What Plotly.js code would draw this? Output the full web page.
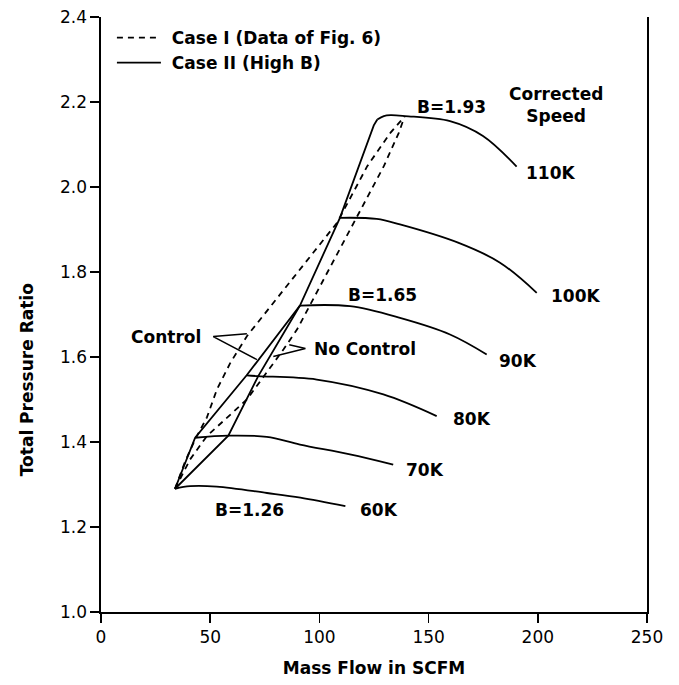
<!DOCTYPE html>
<html>
<head>
<meta charset="utf-8">
<script src="https://cdn.plot.ly/plotly-3.0.1.min.js"></script>
<style>html,body{margin:0;padding:0;background:#fff;}#chart{width:679px;height:685px;}</style>
</head>
<body>
<div id="chart"></div>
<script>
// ---- Data ----
// Constant corrected-speed lines (Case II)
const speed60X  = [33.9, 40.8, 53.0, 76.0, 91.3, 111.9];
const speed60Y  = [1.290, 1.296, 1.295, 1.280, 1.269, 1.249];
const speed70X  = [43.1, 58.3, 75.9, 91.1, 114.0, 133.8];
const speed70Y  = [1.410, 1.415, 1.412, 1.394, 1.371, 1.347];
const speed80X  = [66.7, 72.0, 98.8, 129.3, 153.7];
const speed80Y  = [1.557, 1.555, 1.547, 1.512, 1.461];
const speed90X  = [91.1, 114.0, 136.9, 159.8, 176.6];
const speed90Y  = [1.721, 1.7195, 1.692, 1.653, 1.606];
const speed100X = [109.4, 126.2, 136.9, 163.5, 182.7, 199.5];
const speed100Y = [1.9275, 1.925, 1.912, 1.869, 1.822, 1.751];
const speed110X = [126.5, 129.5, 132.6, 139.2, 159.8, 174.9, 190.3];
const speed110Y = [2.159, 2.167, 2.169, 2.167, 2.155, 2.120, 2.048];

// Surge lines
const case1ControlX   = [33.9, 38.5, 43.1, 48.5, 53.1, 59.2, 66.8, 87.5, 108.1, 121.9, 132.6, 139.0];
const case1ControlY   = [1.290, 1.354, 1.406, 1.458, 1.524, 1.586, 1.649, 1.782, 1.916, 2.049, 2.128, 2.166];
const case1NoControlX = [33.9, 40.8, 48.5, 66.8, 83.6, 89.8, 129.5, 136.4, 139.0];
const case1NoControlY = [1.290, 1.359, 1.414, 1.500, 1.618, 1.665, 2.049, 2.128, 2.166];
const case2ControlX   = [33.9, 43.1, 66.7, 91.1, 109.4, 124.9, 126.5];
const case2ControlY   = [1.290, 1.410, 1.557, 1.721, 1.9275, 2.145, 2.159];
const case2NoControlX = [33.9, 58.3, 72.0, 91.1];
const case2NoControlY = [1.290, 1.415, 1.555, 1.721];

// Leader lines for the "Control" / "No Control" callouts
const controlLeaderX   = [66.8, 51.4, 71.4];
const controlLeaderY   = [1.655, 1.648, 1.594];
const noControlLeaderX = [86.2, 93.6, 78.9];
const noControlLeaderY = [1.629, 1.620, 1.601];

// Text labels
const speedLabels  = ['60K', '70K', '80K', '90K', '100K', '110K'];
const bLabels      = ['B=1.26', 'B=1.65', 'B=1.93'];
const legendNames  = ['Case I (Data of Fig. 6)', 'Case II (High B)'];
const xTicks       = [0, 50, 100, 150, 200, 250];
const yTicks       = [1.0, 1.2, 1.4, 1.6, 1.8, 2.0, 2.2, 2.4];

// ---- Styling ----
const FONT = 'DejaVu Sans, Arial, sans-serif';
const LW = 1.8;
const solid = {color: '#000', width: LW};
const dashed = {color: '#000', width: LW, dash: '6px,5px'};

function curve(x, y, line, extra) {
  return Object.assign({x: x, y: y, type: 'scatter', mode: 'lines', line: line,
    showlegend: false, hoverinfo: 'skip'}, extra || {});
}

const spl = Object.assign({}, solid, {shape: 'spline', smoothing: 1.0});
const traces = [
  curve(case1ControlX, case1ControlY, dashed, {showlegend: true, name: '&nbsp;' + legendNames[0], legendrank: 1}),
  curve(case1NoControlX, case1NoControlY, dashed),
  curve(case2ControlX, case2ControlY, solid, {showlegend: true, name: '&nbsp;' + legendNames[1], legendrank: 2}),
  curve(case2NoControlX, case2NoControlY, solid),
  curve(speed60X, speed60Y, spl),
  curve(speed70X, speed70Y, spl),
  curve(speed80X, speed80Y, spl),
  curve(speed90X, speed90Y, spl),
  curve(speed100X, speed100Y, spl),
  curve(speed110X, speed110Y, spl),
  curve(controlLeaderX, controlLeaderY, {color: '#000', width: 1.5}),
  curve(noControlLeaderX, noControlLeaderY, {color: '#000', width: 1.5})
];

// label placements
const speedLabelPos = [[117.6, 1.241], [138.7, 1.335], [160.1, 1.453], [181.5, 1.590], [205.2, 1.743], [193.7, 2.033]];
const bLabelPos = [[68.0, 1.241], [129.1, 1.746], [160.5, 2.188]];

const annFont = {family: FONT, size: 17, color: '#000'};
const annotations = [];
speedLabels.forEach((t, i) => annotations.push({
  x: speedLabelPos[i][0], y: speedLabelPos[i][1], xref: 'x', yref: 'y',
  text: '<b>' + t + '</b>', showarrow: false, xanchor: 'left', yanchor: 'middle', font: annFont
}));
bLabels.forEach((t, i) => annotations.push({
  x: bLabelPos[i][0], y: bLabelPos[i][1], xref: 'x', yref: 'y',
  text: '<b>' + t + '</b>', showarrow: false, xanchor: 'center', yanchor: 'middle', font: annFont
}));
annotations.push({x: 208.3, y: 2.194, xref: 'x', yref: 'y', text: '<b>Corrected<br>Speed</b>',
  showarrow: false, xanchor: 'center', yanchor: 'middle', font: annFont});
annotations.push({x: 46.5, y: 1.648, xref: 'x', yref: 'y', text: '<b>Control</b>',
  showarrow: false, xanchor: 'right', yanchor: 'middle', font: annFont});
annotations.push({x: 96.7, y: 1.618, xref: 'x', yref: 'y', text: '<b>No Control</b>',
  showarrow: false, xanchor: 'left', yanchor: 'middle', font: annFont});
// y-axis title (placed lower than the plot centre, as in the reference)
annotations.push({x: -0.135, y: 0.39, xref: 'paper', yref: 'paper', text: '<b>Total Pressure Ratio</b>',
  textangle: -90, showarrow: false, xanchor: 'center', yanchor: 'middle', font: annFont});

const axisCommon = {
  showgrid: false, zeroline: false, showline: true, linecolor: '#000', linewidth: 1.6,
  ticks: 'outside', ticklen: 9, tickwidth: 1.5, tickcolor: '#000',
  tickfont: {family: FONT, size: 17, color: '#000'}, fixedrange: true
};

const layout = {
  width: 679, height: 685,
  margin: {l: 101, r: 32, t: 17, b: 73, pad: 0},
  paper_bgcolor: '#fff', plot_bgcolor: '#fff',
  font: {family: FONT, color: '#000'},
  showlegend: true,
  legend: {x: 0.02, y: 0.995, xanchor: 'left', yanchor: 'top', bgcolor: 'rgba(0,0,0,0)',
    font: {family: FONT, size: 17, color: '#000', weight: 'bold'}, traceorder: 'normal',
    itemwidth: 44, tracegroupgap: 0},
  xaxis: Object.assign({}, axisCommon, {range: [0, 250], tickvals: xTicks,
    title: {text: '<b>Mass Flow in SCFM</b>', font: {family: FONT, size: 17, color: '#000'}, standoff: 16}}),
  yaxis: Object.assign({}, axisCommon, {range: [1.0, 2.4], tickvals: yTicks, tickformat: '.1f', mirror: true}),
  annotations: annotations
};

Plotly.newPlot('chart', traces, layout, {staticPlot: true, displayModeBar: false});
</script>
</body>
</html>
